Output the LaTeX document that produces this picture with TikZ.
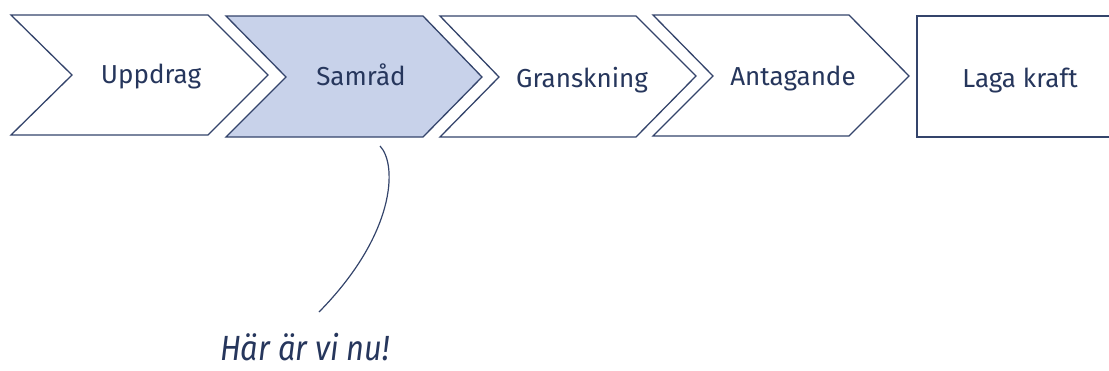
\documentclass[tikz,border=0pt]{standalone}
\usepackage{fontspec}
\setmainfont{Fira Sans}
\newfontfamily\handfont{Fira Sans}
\definecolor{navy}{HTML}{34446B}
\definecolor{inktext}{HTML}{26365C}
\definecolor{stagefill}{HTML}{C8D2EA}
\begin{document}
\begin{tikzpicture}[x=1pt,y=-1pt,
  stage/.style={draw=navy,line width=1.3pt,line join=miter,fill=white},
  current/.style={stage,fill=stagefill},
  label/.style={anchor=base,text=inktext,font=\fontsize{26}{31}\selectfont,inner sep=0pt},
  note/.style={anchor=base,text=inktext,font=\handfont\itshape\fontsize{35}{40}\selectfont,inner sep=0pt},
  pointer/.style={draw=navy,line width=1.2pt}]
\useasboundingbox (0,0) rectangle (1109,370);
\clip (0,0) rectangle (1109,370);
% process stages
\path[stage]   (11,15) -- (208,15) -- (268,75) -- (208,135) -- (11,135) -- (72,75) -- cycle;
\path[current] (226,16) -- (423,16) -- (482,77) -- (423,137) -- (226,137) -- (286,77) -- cycle;
\path[stage]   (440,16) -- (636,16) -- (696,76) -- (636,137) -- (440,137) -- (499,77) -- cycle;
\path[stage]   (653,15) -- (849,15) -- (909,76) -- (849,136) -- (653,136) -- (713,76) -- cycle;
\path[stage]   (917,16) rectangle (1120,137);
% stage names
\node[label] (uppdrag)    at (151,83.5) {Uppdrag};
\node[label] (samrad)     at (361,85)   {Samråd};
\node[label] (granskning) at (582,87)   {Granskning};
\node[label] (antagande)  at (793,85)   {Antagande};
\node[label] (laga)       at (1020,87)  {Laga kraft};
% marker for the current stage
\node[note,xscale=0.88] (here) at (305,360) {Här är vi nu!};
\coordinate (start) at (380,146);
\coordinate (tail) at (319,312);
\draw[pointer] (start) .. controls (398,165) and (395,235) .. (tail);
\end{tikzpicture}
\end{document}
